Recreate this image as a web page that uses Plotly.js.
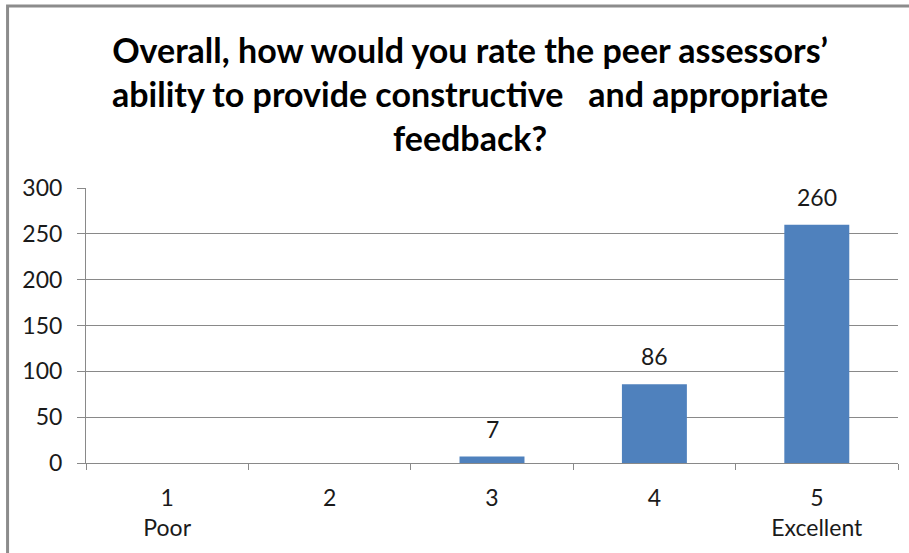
<!DOCTYPE html>
<html>
<head>
<meta charset="utf-8">
<script src="https://cdn.plot.ly/plotly-3.0.1.min.js"></script>
<style>
  html, body { margin: 0; padding: 0; background: #ffffff; }
  #chart { width: 909px; height: 553px; }
</style>
</head>
<body>
<div id="chart"></div>
<script>
// Rating scale and the number of responses per rating
const ratings = ["1", "2", "3", "4", "5"];
const ratingLabels = ["1<br>Poor", "2", "3", "4", "5<br>Excellent"];
const responses = [0, 0, 7, 86, 260];
const labelTexts = ["", "", "7", "86", "260"];

const chartTitle = "Overall, how would you rate the peer assessors’<br>ability to provide constructive   and appropriate<br>feedback?";

const fontFamily = "Lato, 'Open Sans', sans-serif";
const gridColor = "#898989";
const textColor = "#1a1a1a";

const trace = {
  type: "bar",
  x: ratings,
  y: responses,
  marker: { color: "#4f81bd", line: { width: 0 } },
  hoverinfo: "x+y"
};

// value labels above each non-empty bar (x given as the category's index)
const valueLabels = [];
ratings.forEach((r, i) => {
  if (labelTexts[i] === "") return;
  valueLabels.push({
    x: i,
    y: responses[i],
    xref: "x",
    yref: "y",
    text: labelTexts[i],
    showarrow: false,
    yanchor: "bottom",
    yshift: 12,
    font: { family: fontFamily, size: 23, color: textColor }
  });
});

const layout = {
  width: 909,
  height: 553,
  margin: { l: 86, r: 11, t: 188, b: 90 },
  paper_bgcolor: "#ffffff",
  plot_bgcolor: "#ffffff",
  bargap: 0.6,
  showlegend: false,
  font: { family: fontFamily, color: textColor },
  title: {
    text: chartTitle,
    font: { family: fontFamily, size: 34, color: "#000000", weight: "bold" },
    x: 0.473,
    xref: "paper",
    xanchor: "center",
    y: 0.886,
    yref: "container",
    yanchor: "top"
  },
  xaxis: {
    type: "category",
    tickvals: ratings,
    ticktext: ratingLabels,
    range: [-0.5, ratings.length - 0.5],
    tickson: "boundaries",
    ticks: "outside",
    ticklen: 6,
    tickcolor: gridColor,
    showline: true,
    linecolor: gridColor,
    linewidth: 1,
    showgrid: false,
    ticklabelstandoff: 14,
    tickfont: { family: fontFamily, size: 23, color: textColor },
    fixedrange: true
  },
  yaxis: {
    range: [0, 300],
    tickvals: [0, 50, 100, 150, 200, 250, 300],
    ticks: "outside",
    ticklen: 8,
    tickcolor: gridColor,
    showline: true,
    linecolor: gridColor,
    linewidth: 1,
    showgrid: true,
    gridcolor: gridColor,
    gridwidth: 1,
    zeroline: false,
    ticklabelstandoff: 10,
    tickfont: { family: fontFamily, size: 23, color: textColor },
    fixedrange: true
  },
  annotations: valueLabels,
  shapes: [
    {
      // chart frame, open on the right and bottom edges of the page
      type: "rect",
      xref: "paper",
      yref: "paper",
      x0: -0.0966,
      x1: 1.03,
      y0: -0.36,
      y1: 1.662,
      line: { color: "#8c8c8c", width: 3 },
      fillcolor: "rgba(0,0,0,0)",
      layer: "below"
    }
  ]
};

Plotly.newPlot("chart", [trace], layout, { displayModeBar: false, staticPlot: true });
</script>
</body>
</html>
